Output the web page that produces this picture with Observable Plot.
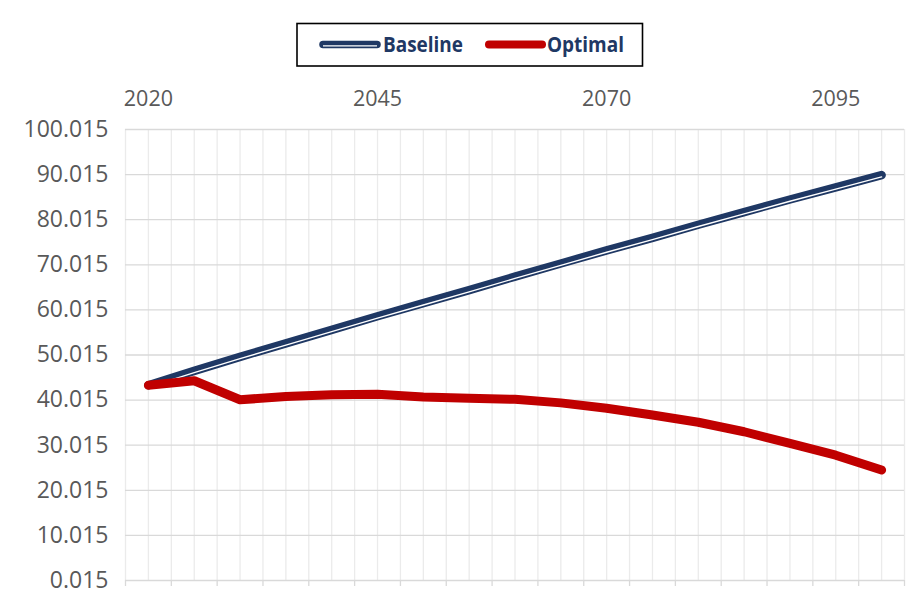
<!DOCTYPE html>
<html>
<head>
<meta charset="utf-8">
<script src="https://cdn.jsdelivr.net/npm/d3@7"></script>
<script src="https://cdn.jsdelivr.net/npm/@observablehq/plot@0.6"></script>
<style>
  html, body { margin: 0; padding: 0; background: white; }
  #wrap { position: relative; width: 924px; height: 608px; overflow: hidden; }
  #legend { position: absolute; left: 0; top: 0; }
</style>
</head>
<body>
<div id="wrap"></div>
<script>
// ---- data ----
const years = [2020, 2025, 2030, 2035, 2040, 2045, 2050, 2055, 2060, 2065, 2070, 2075, 2080, 2085, 2090, 2095, 2100];
const baseline = [43.3, 46.5, 49.6, 52.6, 55.6, 58.6, 61.5, 64.4, 67.4, 70.3, 73.2, 76.0, 78.9, 81.7, 84.5, 87.2, 89.9];
const optimal = [43.3, 44.3, 40.1, 40.8, 41.2, 41.3, 40.7, 40.4, 40.2, 39.4, 38.2, 36.7, 35.1, 33.0, 30.4, 27.8, 24.5];
const yTicks = [0.015, 10.015, 20.015, 30.015, 40.015, 50.015, 60.015, 70.015, 80.015, 90.015, 100.015];
const xLabelYears = [2020, 2045, 2070, 2095];
const seriesNames = ["Baseline", "Optimal"];

const baseData = years.map((year, i) => ({year, value: baseline[i]}));
const optData = years.map((year, i) => ({year, value: optimal[i]}));
// category boundaries (tick marks) and gridline positions (centres + boundaries)
const xBoundaries = d3.range(2017.5, 2102.6, 5);
const xGrid = d3.range(2017.5, 2102.6, 2.5);

const navy = "#1f3864";
const red = "#c00000";

const chart = Plot.plot({
  width: 924,
  height: 608,
  marginLeft: 125,
  marginRight: 20,
  marginTop: 129,
  marginBottom: 28,
  x: {domain: [2017.5, 2102.5]},
  y: {domain: [0.015, 100.015]},
  style: {fontFamily: "'Open Sans', sans-serif", fontSize: "21px", color: "#595959", background: "white"},
  marks: [
    Plot.ruleX(xGrid, {stroke: "#ebebeb", strokeWidth: 1.3}),
    Plot.ruleY(yTicks, {stroke: "#d9d9d9", strokeWidth: 1.3}),
    Plot.axisX(xBoundaries, {anchor: "bottom", tickSize: 6, tickFormat: () => "", stroke: "#d9d9d9", strokeWidth: 1.3, label: null}),
    Plot.axisX(xLabelYears, {anchor: "top", tickSize: 0, tickPadding: 24, fontSize: 21.5, tickFormat: d => String(d), label: null}),
    Plot.axisY(yTicks, {anchor: "left", tickSize: 0, tickPadding: 17, fontSize: 23, tickFormat: d => d.toFixed(3), label: null}),
    Plot.line(baseData, {x: "year", y: "value", stroke: navy, strokeWidth: 8.5, strokeLinecap: "round", strokeLinejoin: "round"}),
    Plot.line(baseData, {x: "year", y: "value", stroke: "white", strokeWidth: 1.4, dy: 1.8}),
    Plot.line(optData, {x: "year", y: "value", stroke: red, strokeWidth: 9, strokeLinecap: "round", strokeLinejoin: "round"})
  ]
});
document.getElementById("wrap").appendChild(chart);

// ---- legend ----
const ns = "http://www.w3.org/2000/svg";
const leg = document.createElementNS(ns, "svg");
leg.setAttribute("id", "legend");
leg.setAttribute("width", 924);
leg.setAttribute("height", 80);
leg.innerHTML = `
  <rect x="297" y="23.5" width="345.5" height="42.5" fill="white" stroke="black" stroke-width="1.6"/>
  <line x1="323" y1="44.5" x2="377" y2="44.5" stroke="${navy}" stroke-width="7.5" stroke-linecap="round"/>
  <line x1="323" y1="45.8" x2="377" y2="45.8" stroke="white" stroke-width="1.3"/>
  <text x="383" y="51.5" fill="${navy}" font-family="'Open Sans', sans-serif" font-weight="bold" font-size="22" textLength="80" lengthAdjust="spacingAndGlyphs">${seriesNames[0]}</text>
  <line x1="489" y1="44.5" x2="542" y2="44.5" stroke="${red}" stroke-width="8" stroke-linecap="round"/>
  <text x="547" y="51.5" fill="${navy}" font-family="'Open Sans', sans-serif" font-weight="bold" font-size="22" textLength="77" lengthAdjust="spacingAndGlyphs">${seriesNames[1]}</text>
`;
document.getElementById("wrap").appendChild(leg);
</script>
</body>
</html>
